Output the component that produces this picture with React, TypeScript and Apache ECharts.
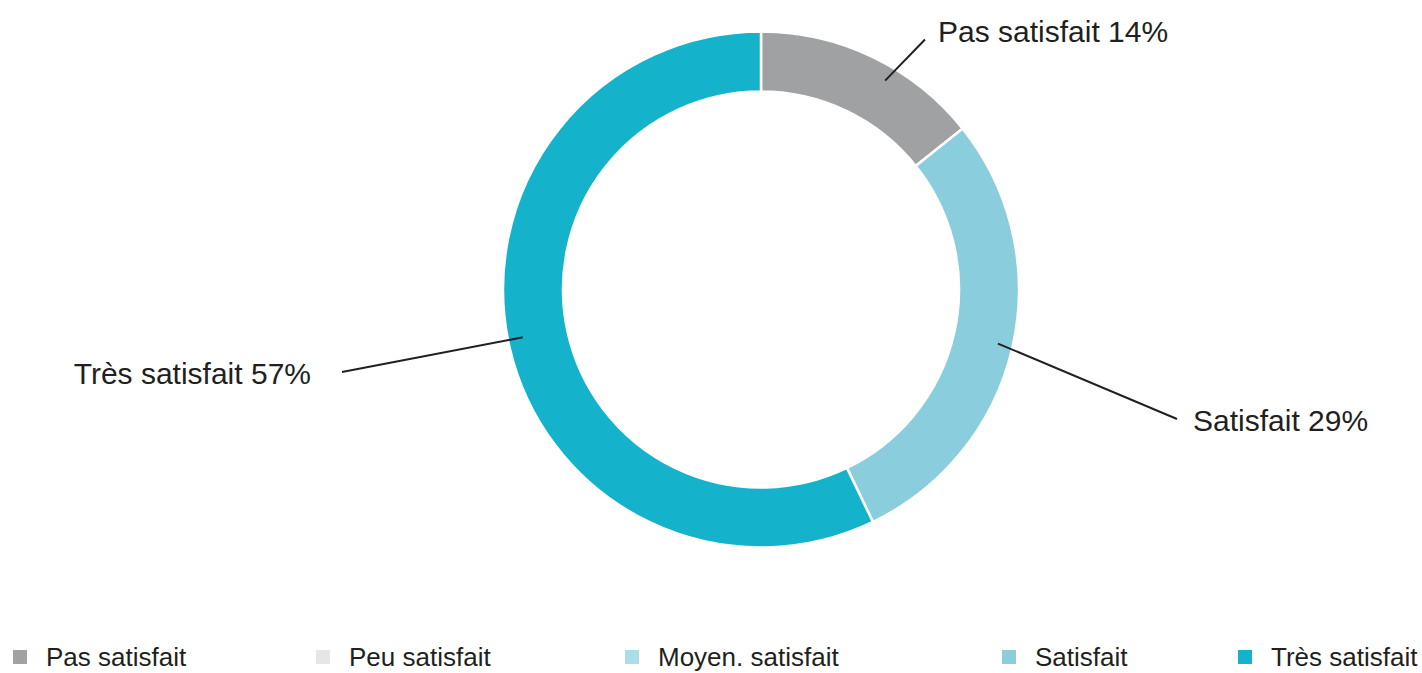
import React, { useEffect, useRef } from "react";
import * as echarts from "echarts";

const categories = ["Pas satisfait", "Peu satisfait", "Moyen. satisfait", "Satisfait", "Très satisfait"];
const counts = [1, 0, 0, 2, 4];
const colors = ["#a0a1a3", "#e6e6e6", "#a9dde9", "#8acddd", "#14b3cb"];

// layout (px)
const CX = 761;
const CY = 289.5;
const R_IN = 198;
const R_OUT = 258;
const LINE_START_INSET = 15;
// small angular shift (deg, clockwise) of label-line start from slice mid-angle
const lineStartShift: Record<string, number> = {
  "Pas satisfait": 5,
  "Satisfait": 0,
  "Très satisfait": 1.5,
};
// label line end and label anchor, relative to centre
const lineEnds: Record<string, [number, number]> = {
  "Pas satisfait": [164, -250],
  "Satisfait": [416, 129.5],
  "Très satisfait": [-419, 82.5],
};
const labelAnchors: Record<string, [number, number, string]> = {
  "Pas satisfait": [177, -258, "left"],
  "Satisfait": [432, 131, "left"],
  "Très satisfait": [-450, 83.5, "right"],
};
const legendLefts = [11, 314, 623, 1000, 1236];

export default function App() {
  const ref = useRef<HTMLDivElement>(null);
  useEffect(() => {
    document.body.style.margin = "0";
    if (!ref.current) return;
    const chart = echarts.init(ref.current, undefined, { renderer: "svg" });
    const ringData = categories.map((name, i) => ({
      name,
      value: counts[i],
      itemStyle: { color: colors[i] },
    }));
    const labelData = categories.map((name, i) => {
      const item: any = { name, value: counts[i] };
      if (counts[i] === 0) {
        item.label = { show: false };
        item.labelLine = { show: false };
      }
      return item;
    });
    const legends = categories.map((name, i) => ({
      data: [name],
      left: legendLefts[i],
      top: 644,
      padding: 0,
      icon: "rect",
      itemWidth: 16,
      itemHeight: 16,
      selectedMode: false,
      textStyle: {
        fontFamily: "'Liberation Sans', Arial, sans-serif",
        fontSize: 26,
        lineHeight: 26,
        color: "#231f20",
        padding: [0, 0, 0, 13],
      },
    }));
    chart.setOption({
      animation: false,
      backgroundColor: "#ffffff",
      legend: legends,
      series: [
        {
          type: "pie",
          z: 2,
          center: [CX, CY],
          radius: [R_IN, R_OUT],
          startAngle: 90,
          clockwise: true,
          silent: true,
          itemStyle: { borderColor: "#ffffff", borderWidth: 2.5 },
          label: { show: false },
          labelLine: { show: false },
          data: ringData,
        },
        {
          type: "pie",
          z: 3,
          center: [CX, CY],
          radius: [R_IN, R_OUT],
          startAngle: 90,
          clockwise: true,
          avoidLabelOverlap: false,
          silent: true,
          itemStyle: { color: "rgba(0,0,0,0)", borderWidth: 0 },
          label: {
            show: true,
            position: "outside",
            fontFamily: "'Liberation Sans', Arial, sans-serif",
            fontSize: 30,
            color: "#231f20",
            formatter: (p: any) => `${p.name} ${Math.round(p.percent)}%`,
          },
          labelLine: {
            show: true,
            length: 10,
            length2: 10,
            lineStyle: { color: "#231f20", width: 2 },
          },
          labelLayout: (params: any) => {
            const name = categories[params.dataIndex];
            const pts = params.labelLinePoints;
            if (!pts || !lineEnds[name]) return {};
            const dx0 = pts[0][0] - CX;
            const dy0 = pts[0][1] - CY;
            const len = Math.sqrt(dx0 * dx0 + dy0 * dy0) || 1;
            const phi = ((lineStartShift[name] || 0) * Math.PI) / 180;
            const ux = dx0 / len;
            const uy = dy0 / len;
            const rx = ux * Math.cos(phi) - uy * Math.sin(phi);
            const ry = ux * Math.sin(phi) + uy * Math.cos(phi);
            const r = R_OUT - LINE_START_INSET;
            const start = [CX + rx * r, CY + ry * r];
            const e = lineEnds[name];
            const end = [CX + e[0], CY + e[1]];
            const a = labelAnchors[name];
            return {
              x: CX + a[0],
              y: CY + a[1],
              align: a[2],
              verticalAlign: "middle",
              labelLinePoints: [start, end],
            };
          },
          data: labelData,
        },
      ],
    });
    return () => chart.dispose();
  }, []);
  return <div ref={ref} style={{ width: 1422, height: 673 }} />;
}
